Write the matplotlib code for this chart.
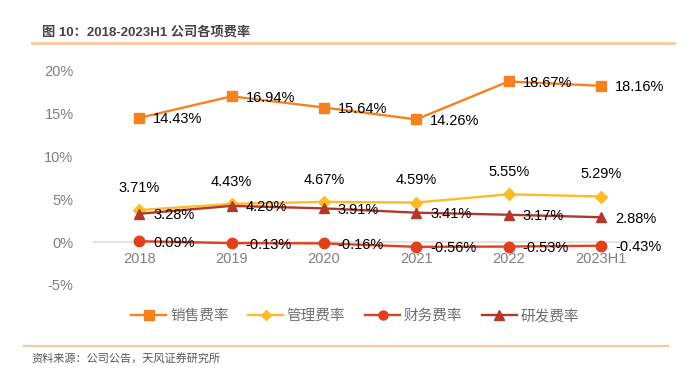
import matplotlib
matplotlib.use("Agg")
import matplotlib.pyplot as plt
from matplotlib.lines import Line2D

plt.rcParams['font.family'] = ['Liberation Sans', 'Noto Sans CJK SC']

years = ["2018", "2019", "2020", "2021", "2022", "2023H1"]
sales = [14.43, 16.94, 15.64, 14.26, 18.67, 18.16]
mgmt = [3.71, 4.43, 4.67, 4.59, 5.55, 5.29]
fin = [0.09, -0.13, -0.16, -0.56, -0.53, -0.43]
rd = [3.28, 4.20, 3.91, 3.41, 3.17, 2.88]
names = ["销售费率", "管理费率", "财务费率", "研发费率"]

c_sales = "#F5821F"
c_mgmt = "#FBBC2C"
c_fin = "#E0401C"
c_rd = "#B3382C"
grey = "#808080"

fig = plt.figure(figsize=(6.91, 3.75), dpi=100)
ax = fig.add_axes([0.1346, 0.24, 0.802, 0.5733])
x = list(range(len(years)))

ax.axhline(0, color="#E3E3E3", lw=1.5, zorder=0)

lw = 1.7
ax.plot(x, sales, color=c_sales, lw=lw, marker="s", ms=7.5, label=names[0])
ax.plot(x, mgmt, color=c_mgmt, lw=lw, marker="D", ms=6.5, label=names[1])
ax.plot(x, fin, color=c_fin, lw=lw, marker="o", ms=7.5, label=names[2])
ax.plot(x, rd, color=c_rd, lw=lw, marker="^", ms=7.5, label=names[3])

# data labels
for i in x:
    ax.annotate(f"{sales[i]:.2f}%", (i, sales[i]), xytext=(10, -1), textcoords="offset points",
                ha="left", va="center", fontsize=10.5, color="black")
    ax.annotate(f"{mgmt[i]:.2f}%", (i, mgmt[i]), xytext=(0, 11), textcoords="offset points",
                ha="center", va="bottom", fontsize=10.5, color="black")
    ax.annotate(f"{fin[i]:.2f}%", (i, fin[i]), xytext=(10, -1), textcoords="offset points",
                ha="left", va="center", fontsize=10.5, color="black")
    ax.annotate(f"{rd[i]:.2f}%", (i, rd[i]), xytext=(10, -1), textcoords="offset points",
                ha="left", va="center", fontsize=10.5, color="black")

ax.set_xlim(-0.5, 5.5)
ax.set_ylim(-5, 20)
ax.set_yticks([-5, 0, 5, 10, 15, 20])
ax.set_yticklabels([f"{v}%" for v in [-5, 0, 5, 10, 15, 20]])
ax.set_xticks(x)
ax.set_xticklabels(years)
ax.spines["bottom"].set_position(("data", 0))
ax.tick_params(axis="both", length=0, colors=grey, labelsize=10.5)
ax.tick_params(axis="x", pad=7.5)
ax.tick_params(axis="y", pad=14)
for s in ax.spines.values():
    s.set_visible(False)

handles = [
    Line2D([], [], color=c_sales, lw=lw, marker="s", ms=6.5),
    Line2D([], [], color=c_mgmt, lw=lw, marker="D", ms=5.5),
    Line2D([], [], color=c_fin, lw=lw, marker="o", ms=6.5),
    Line2D([], [], color=c_rd, lw=lw, marker="^", ms=6.5),
]
leg = fig.legend(handles, names, loc="center", bbox_to_anchor=(0.514, 0.157), ncol=4,
                 frameon=False, handlelength=2.4, handletextpad=0.25,
                 columnspacing=1.35,
                 prop={"family": ["Noto Sans CJK SC"], "size": 10.5})
for t in leg.get_texts():
    t.set_color("#6E6E6E")

# title and separator lines
fig.text(0.061, 0.915, "图 10：2018-2023H1 公司各项费率", fontsize=9.5, fontweight="bold",
         color="#454545", ha="left", va="center")
fig.add_artist(Line2D([0.046, 0.976], [0.885, 0.885], color="#F9C79A", lw=2))
fig.add_artist(Line2D([0.035, 0.966], [0.077, 0.077], color="#F9C79A", lw=1.5))
fig.text(0.046, 0.045, "资料来源：公司公告，天风证券研究所", fontsize=8, color="#555555",
         ha="left", va="center", family=["Noto Sans CJK SC"])

fig.savefig("out.png", dpi=100)
